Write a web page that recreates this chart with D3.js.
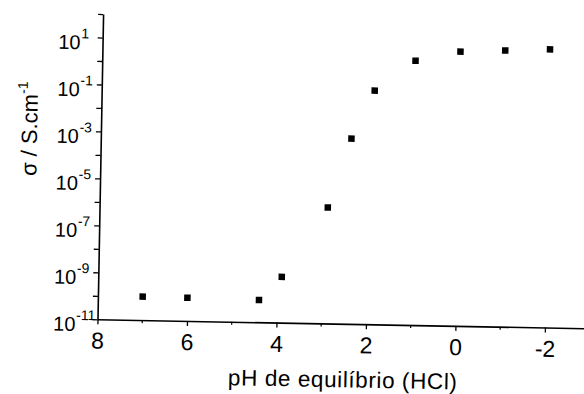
<!DOCTYPE html>
<html>
<head>
<meta charset="utf-8">
<script src="https://cdn.jsdelivr.net/npm/d3@7"></script>
<style>
  body { margin: 0; background: #fff; }
  svg { display: block; }
  text { font-family: "Liberation Sans", Arial, sans-serif; fill: #000; }
</style>
</head>
<body>
<svg id="chart" width="584" height="394"></svg>
<script>
// Conductivity of the doped polymer versus equilibrium pH (HCl)
const phValues     = [7, 6, 4.4, 3.9, 2.9, 2.4, 1.9, 1.0, 0, -1, -2];
const conductivity = [1.0e-10, 9.7e-11, 8.9e-11, 8.9e-10, 8.7e-7, 7.8e-4, 8.9e-2, 1.8, 4.8, 5.8, 7.0];

const xTickValues  = [8, 6, 4, 2, 0, -2];
const xMinorValues = [7, 5, 3, 1, -1, -3];
const yLabelExponents = [1, -1, -3, -5, -7, -9, -11];
const yTickExponents  = [2, 1, 0, -1, -2, -3, -4, -5, -6, -7, -8, -9, -10, -11];

const xTitle = "pH de equilíbrio (HCl)";
const yTitle = "σ / S.cm";
const yTitleSup = "-1";

const svg = d3.select("#chart");

// Plot frame origin (pH 8, 1e-11)
const x0 = 97.5, y0 = 319.3;

const x = d3.scaleLinear().domain([8, -3]).range([x0, x0 + 11 * 44.75]);
const y = d3.scaleLog().domain([1e-11, 1e2]).range([y0, 14]);

// whole figure sits slightly tilted on the page
const g = svg.append("g").attr("transform", `rotate(1.05, ${x0}, ${y0})`);

// x axis
const xAxis = g.append("g")
  .attr("transform", `translate(0,${y0})`)
  .call(d3.axisBottom(x).tickValues(xTickValues).tickSize(5).tickSizeOuter(0)
        .tickFormat(d => String(d)));
xAxis.select(".domain").attr("stroke-width", 1.6);
xAxis.selectAll(".tick line").attr("stroke-width", 1.3);
xAxis.selectAll(".tick text")
  .attr("font-size", 23).attr("font-family", "Liberation Sans, Arial, sans-serif")
  .attr("y", 0).attr("dy", 0)
  .attr("transform", `translate(0, ${348.5 - y0})`);

g.append("g").selectAll("line").data(xMinorValues).join("line")
  .attr("x1", d => x(d)).attr("x2", d => x(d))
  .attr("y1", y0).attr("y2", y0 + 3)
  .attr("stroke", "#000").attr("stroke-width", 1.2);

// y axis
const yAxis = g.append("g")
  .attr("transform", `translate(${x0},0)`)
  .call(d3.axisLeft(y).tickValues(yTickExponents.map(e => Math.pow(10, e)))
        .tickSize(5).tickSizeOuter(0).tickFormat(""));
yAxis.select(".domain").attr("stroke-width", 1.6);
yAxis.selectAll(".tick line").attr("stroke-width", 1.3);

// y tick labels written as powers of ten
const yLab = g.append("g").selectAll("g").data(yLabelExponents).join("g")
  .attr("transform", e => `translate(0, ${y(Math.pow(10, e))})`);
yLab.append("text")
  .attr("x", 75.5).attr("y", 12)
  .attr("text-anchor", "end")
  .attr("font-size", 20)
  .text("10");
yLab.append("text")
  .attr("x", 76).attr("y", 1)
  .attr("text-anchor", "start")
  .attr("font-size", 14)
  .text(e => String(e));

// markers
g.append("g").selectAll("rect").data(phValues).join("rect")
  .attr("x", (d) => x(d) - 3.25)
  .attr("y", (d, i) => y(conductivity[i]) - 3.25)
  .attr("width", 6.5).attr("height", 6.5)
  .attr("fill", "#000");

// axis titles
g.append("text")
  .attr("x", 343.8).attr("y", 382.8)
  .attr("text-anchor", "middle")
  .attr("font-size", 22.5)
  .attr("letter-spacing", 0.6)
  .text(xTitle);

const yt = g.append("text")
  .attr("transform", "translate(33.6, 130) rotate(-90)")
  .attr("text-anchor", "middle")
  .attr("font-size", 22);
yt.append("tspan").text(yTitle);
yt.append("tspan").attr("font-size", 14).attr("dy", -10).text(yTitleSup);
</script>
</body>
</html>
